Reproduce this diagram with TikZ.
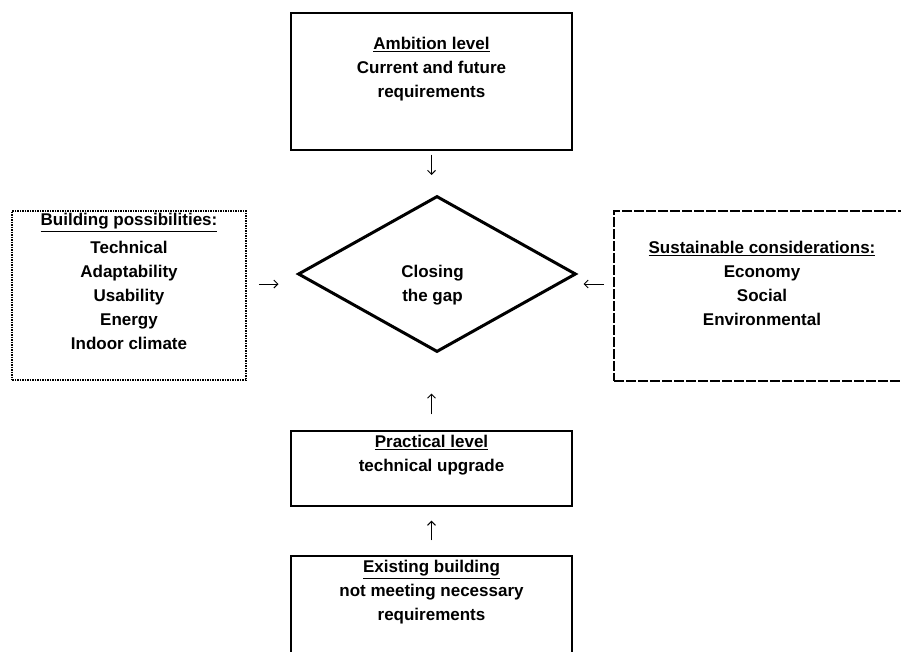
\documentclass[tikz,border=0pt]{standalone}
\usepackage{fontspec}
\setmainfont{Liberation Sans}
\usepackage{tikz}
\usetikzlibrary{shapes.geometric}
\usetikzlibrary{arrows.meta,positioning,calc}

\begin{document}
\begin{tikzpicture}[
    x=1pt, y=-1pt,
    every node/.style={font=\fontsize{17}{24}\selectfont\bfseries},
    panel/.style={
        draw=black,
        line width=1.2pt,
        inner sep=0pt
    },
    dotpanel/.style={
        panel,
        line width=1.6pt,
        dash pattern=on 1.5pt off 1pt
    },
    dashpanel/.style={
        panel,
        line width=1.6pt,
        dash pattern=on 10pt off 2pt
    },
    decision/.style={
        diamond,
        draw=black,
        line width=3pt,
        inner sep=0pt,
        minimum width=278pt,
        minimum height=156pt
    },
    flow/.style={
        -{Straight Barb[length=4pt,width=8pt]},
        line width=1pt
    }
]

\clip (0,0) rectangle (901,651);

% ==========================================================
% AMBITION LEVEL
% ==========================================================

\node[panel] (ambition) at (431.5,81.5)
{\parbox[c][137pt][t]{281pt}{\centering\vspace*{20pt}\strut
\underline{Ambition level}\\
Current and future\\
requirements}};

% ==========================================================
% CLOSING THE GAP
% ==========================================================

\node[decision] (gap) at (437,274)
{\raisebox{-15pt}[0pt][0pt]{\hspace*{-9pt}\begin{tabular}{@{}c@{}}Closing\\the gap\end{tabular}}};

% ==========================================================
% BUILDING POSSIBILITIES / SUSTAINABLE CONSIDERATIONS
% ==========================================================

\node[dotpanel] (building) at (129,295.5)
{\parbox[c][169pt][t]{234pt}{\centering\vspace*{-2pt}\strut
\underline{Building possibilities:}\\[4pt]
Technical\\
Adaptability\\
Usability\\
Energy\\
Indoor climate}};

\node[dashpanel] (sustain) at (762,296)
{\parbox[c][170pt][t]{296pt}{\centering\vspace*{26pt}\strut
\underline{Sustainable considerations:}\\
Economy\\
Social\\
Environmental}};

% ==========================================================
% PRACTICAL LEVEL / EXISTING BUILDING
% ==========================================================

\node[panel] (practical) at (431.5,468.5)
{\parbox[c][75pt][t]{281pt}{\centering\strut
\underline{Practical level}\\
technical upgrade}};

\node[panel] (existing) at (431.5,611)
{\parbox[c][110pt][t]{281pt}{\centering\strut
\underline{Existing building}\\
not meeting necessary\\
requirements}};

% ==========================================================
% ARROWS
% ==========================================================

\coordinate (leftin) at ([yshift=11.5pt]building.east);
\coordinate (rightin) at ([yshift=12pt]sustain.west);

\draw[flow, shorten <=4pt, shorten >=19.5pt]
(ambition.south) -- (ambition.south |- gap.north);

\draw[flow, shorten <=12pt, shorten >=18pt]
(leftin) -- (leftin -| gap.west);

\draw[flow, shorten <=9pt, shorten >=6pt]
(rightin) -- (rightin -| gap.east);

\draw[flow, shorten <=16pt, shorten >=40pt]
(practical.north) -- (practical.north |- gap.south);

\draw[flow, shorten <=15pt, shorten >=14pt]
(existing.north) -- (practical.south);

\end{tikzpicture}
\end{document}
